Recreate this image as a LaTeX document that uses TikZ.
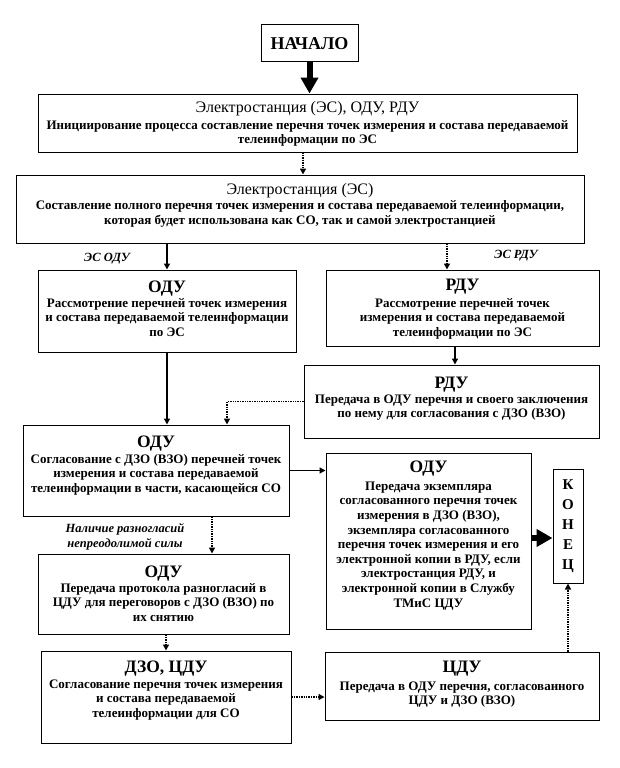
\documentclass[tikz,border=0pt]{standalone}
\usepackage{fontspec}
\setmainfont{Liberation Serif}
\usetikzlibrary{positioning,arrows.meta}
\newcommand{\hd}{\fontsize{17.5}{18}\selectfont\bfseries}
\newcommand{\hdes}{\fontsize{16}{17}\selectfont\mdseries}
\newcommand{\bodyfnt}{\fontsize{13}{14.6}\selectfont\bfseries}
\tikzset{
  box/.style = {draw, line width=1pt, inner sep=0pt},
  txt/.style = {align=center, font=\bodyfnt, inner sep=0pt},
  lbl/.style = {align=center, font=\fontsize{12.5}{15}\selectfont\bfseries\itshape, inner sep=0pt},
  arr/.style = {line width=1.4pt, -{Triangle[width=6pt,length=6pt]}},
  dotarr/.style = {line width=1.4pt, densely dotted, -{Triangle[width=6pt,length=6pt]}},
  fatarr/.style = {line width=6pt, -{Triangle[width=17pt,length=16pt]}}
}

\begin{document}
\begin{tikzpicture}[x=1pt,y=-1pt]
	\useasboundingbox (0,0) rectangle (619,768);

	% Boxes
	\node[box, minimum width=97, minimum height=37] (start) at (309.5,43.5) {};
	\node[box, minimum width=539, minimum height=58] (es1) at (307.5,123) {};
	\node[box, minimum width=568, minimum height=68] (es2) at (300,209) {};
	\node[box, minimum width=258, minimum height=82] (odu1) at (167,311) {};
	\node[box, minimum width=273, minimum height=76] (rdu1) at (462.5,308) {};
	\node[box, minimum width=295, minimum height=73] (rdu2) at (451.5,401.5) {};
	\node[box, minimum width=266, minimum height=91] (odu2) at (156,470.5) {};
	\node[box, minimum width=205, minimum height=176] (odu3) at (428.5,541) {};
	\node[box, minimum width=30, minimum height=114] (fin) at (568,526) {};
	\node[box, minimum width=251, minimum height=80] (odu4) at (163.5,594) {};
	\node[box, minimum width=250, minimum height=92] (dzo) at (166,697) {};
	\node[box, minimum width=274, minimum height=68] (cdu) at (462,686) {};

	% Texts
	\node[txt, font=\fontsize{18}{19}\selectfont\bfseries] (startt) at (start) {НАЧАЛО};
	\node[txt, below=7.8pt of es1.north] (es1t) {{\hdes Электростанция (ЭС), ОДУ, РДУ}\\[2pt]
		Инициирование процесса составление перечня точек измерения и состава передаваемой\\
		телеинформации по ЭС};
	\node[txt, below=8.8pt of es2.north] (es2t) {{\hdes Электростанция (ЭС)}\\[0.5pt]
		Составление полного перечня точек измерения и состава передаваемой телеинформации,\\
		которая будет использована как СО, так и самой электростанцией};
	\node[txt, below=11pt of odu1.north] (odu1t) {{\hd ОДУ}\\[0.5pt]
		Рассмотрение перечней точек измерения\\
		и состава передаваемой телеинформации\\
		по ЭС};
	\node[txt, below=9pt of rdu1.north] (rdu1t) {{\hd РДУ}\\[2.5pt]
		Рассмотрение перечней точек\\
		измерения и состава передаваемой\\
		телеинформации по ЭС};
	\node[txt, below=12pt of rdu2.north] (rdu2t) {{\hd РДУ}\\[0.5pt]
		Передача в ОДУ перечня и своего заключения\\
		по нему для согласования с ДЗО (ВЗО)};
	\node[txt, below=11pt of odu2.north] (odu2t) {{\hd ОДУ}\\[1.5pt]
		Согласование с ДЗО (ВЗО) перечней точек\\
		измерения и состава передаваемой\\
		телеинформации в части, касающейся СО};
	\node[txt, below=8pt of odu3.north] (odu3t) {{\hd ОДУ}\\[3.5pt]
		Передача экземпляра\\
		согласованного перечня точек\\
		измерения в ДЗО (ВЗО),\\
		экземпляра согласованного\\
		перечня точек измерения и его\\
		электронной копии в РДУ, если\\
		электростанция РДУ, и\\
		электронной копии в Службу\\
		ТМиС ЦДУ};
	\node[txt, font=\fontsize{15}{20}\selectfont\bfseries] (fint) at (fin) {К\\О\\Н\\Е\\Ц};
	\node[txt, below=12pt of odu4.north] (odu4t) {{\hd ОДУ}\\[0.5pt]
		Передача протокола разногласий в\\
		ЦДУ для переговоров с ДЗО (ВЗО) по\\
		их снятию};
	\node[txt, below=10pt of dzo.north] (dzot) {{\hd ДЗО, ЦДУ}\\[1.5pt]
		Согласование перечня точек измерения\\
		и состава передаваемой\\
		телеинформации для СО};
	\node[txt, below=9pt of cdu.north] (cdut) {{\hd ЦДУ}\\[3.5pt]
		Передача в ОДУ перечня, согласованного\\
		ЦДУ и ДЗО (ВЗО)};

	% Labels
	\node[lbl] (lesodu) at (107,259) {ЭС ОДУ};
	\node[lbl] (lesrdu) at (516,256) {ЭС РДУ};
	\node[lbl] (lrazn) at (125,536.5) {Наличие разногласий\\непреодолимой силы};

	% Arrow points
	\coordinate (p1) at ([xshift=-4.5pt]es1.south);
	\coordinate (p2) at ([xshift=-15.5pt]rdu1.north);
	\coordinate (p3) at ([xshift=-7.5pt]rdu1.south);
	\coordinate (p4) at ([xshift=71pt]odu2.north);
	\coordinate (p5) at ([yshift=-12pt]fin.west);
	\coordinate (p6) at ([xshift=56pt]odu2.south);

	% Arrows
	\draw[fatarr] (start.south) -- (start.south |- es1.north);
	\draw[dotarr] (p1) -- (p1 |- es2.north);
	\draw[arr] (odu1.north |- es2.south) -- (odu1.north);
	\draw[dotarr] (p2 |- es2.south) -- (p2);
	\draw[arr] (p3) -- (p3 |- rdu2.north);
	\draw[arr] (odu1.south) -- (odu1.south |- odu2.north);
	\draw[dotarr] (rdu2.west) -| (p4);
	\draw[arr] (odu2.east) -- (odu2.east -| odu3.west);
	\draw[fatarr] (p5 -| odu3.east) -- (p5);
	\draw[dotarr] (p6) -- (p6 |- odu4.north);
	\draw[dotarr] (dzo.north |- odu4.south) -- (dzo.north);
	\draw[dotarr] (dzo.east) -- (dzo.east -| cdu.west);
	\draw[dotarr] (fin.south |- cdu.north) -- (fin.south);

\end{tikzpicture}
\end{document}
